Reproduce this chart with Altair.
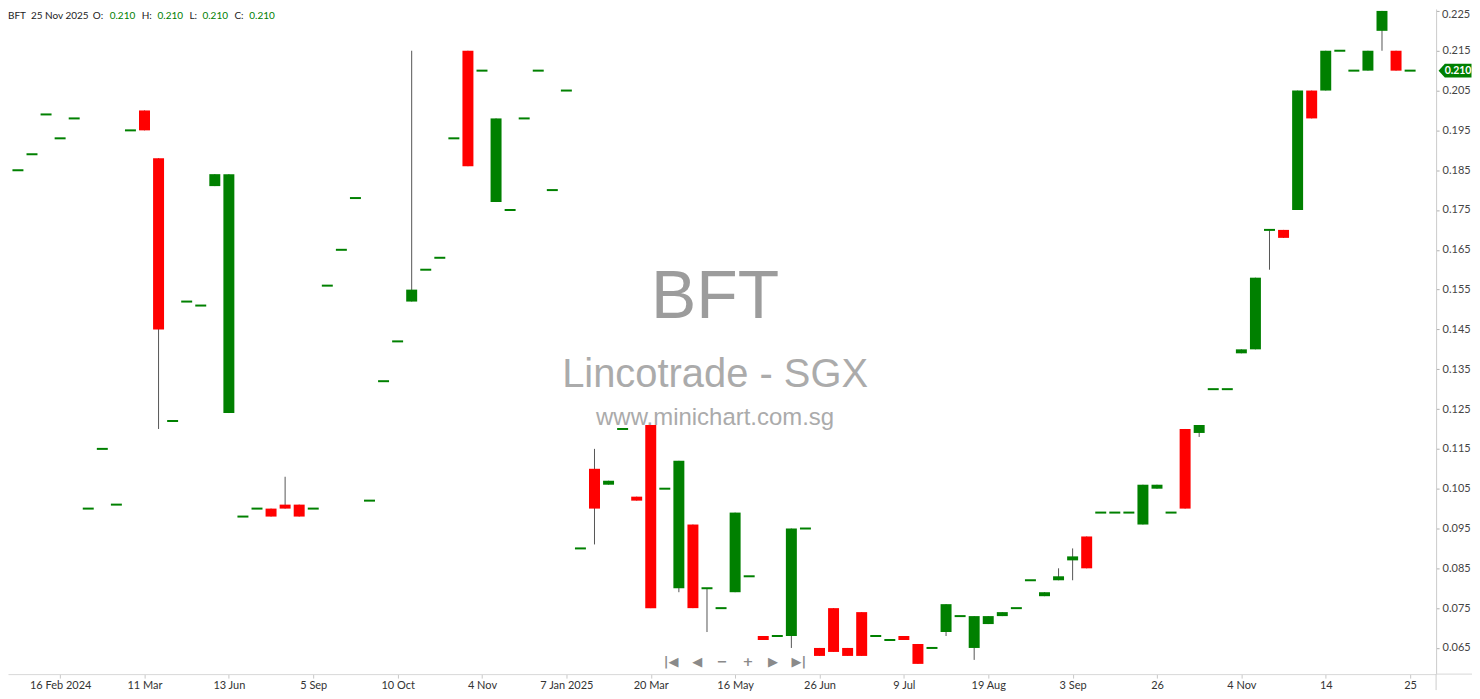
import altair as alt
import pandas as pd

# ---------------- data ----------------
opens = [0.185, 0.189, 0.199, 0.193, 0.198, 0.100, 0.115, 0.101, 0.195, 0.200,
         0.188, 0.122, 0.152, 0.151, 0.181, 0.124, 0.098, 0.100, 0.100, 0.101,
         0.101, 0.100, 0.156, 0.165, 0.178, 0.102, 0.132, 0.142, 0.152, 0.160,
         0.163, 0.193, 0.215, 0.210, 0.177, 0.175, 0.198, 0.210, 0.180, 0.205,
         0.090, 0.110, 0.106, 0.120, 0.103, 0.121, 0.105, 0.080, 0.096, 0.080,
         0.075, 0.079, 0.083, 0.068, 0.068, 0.068, 0.095, 0.065, 0.075, 0.065,
         0.074, 0.068, 0.067, 0.068, 0.066, 0.065, 0.069, 0.073, 0.065, 0.071,
         0.073, 0.075, 0.082, 0.078, 0.082, 0.087, 0.093, 0.099, 0.099, 0.099,
         0.096, 0.105, 0.099, 0.120, 0.119, 0.130, 0.130, 0.139, 0.140, 0.170,
         0.170, 0.175, 0.205, 0.205, 0.215, 0.210, 0.210, 0.220, 0.215, 0.210]
highs = [0.185, 0.189, 0.199, 0.193, 0.198, 0.100, 0.115, 0.101, 0.195, 0.200,
         0.188, 0.122, 0.152, 0.151, 0.184, 0.184, 0.098, 0.100, 0.100, 0.108,
         0.101, 0.100, 0.156, 0.165, 0.178, 0.102, 0.132, 0.142, 0.215, 0.160,
         0.163, 0.193, 0.215, 0.210, 0.198, 0.175, 0.198, 0.210, 0.180, 0.205,
         0.090, 0.115, 0.107, 0.120, 0.103, 0.121, 0.105, 0.112, 0.096, 0.080,
         0.075, 0.099, 0.083, 0.068, 0.068, 0.095, 0.095, 0.065, 0.075, 0.065,
         0.074, 0.068, 0.067, 0.068, 0.066, 0.065, 0.076, 0.073, 0.073, 0.073,
         0.074, 0.075, 0.082, 0.079, 0.085, 0.090, 0.093, 0.099, 0.099, 0.099,
         0.106, 0.106, 0.099, 0.120, 0.121, 0.130, 0.130, 0.140, 0.158, 0.170,
         0.170, 0.205, 0.205, 0.215, 0.215, 0.210, 0.215, 0.225, 0.215, 0.210]
lows = [0.185, 0.189, 0.199, 0.193, 0.198, 0.100, 0.115, 0.101, 0.195, 0.195,
        0.120, 0.122, 0.152, 0.151, 0.181, 0.124, 0.098, 0.100, 0.098, 0.100,
        0.098, 0.100, 0.156, 0.165, 0.178, 0.102, 0.132, 0.142, 0.152, 0.160,
        0.163, 0.193, 0.186, 0.210, 0.177, 0.175, 0.198, 0.210, 0.180, 0.205,
        0.090, 0.091, 0.106, 0.120, 0.102, 0.075, 0.105, 0.079, 0.075, 0.069,
        0.075, 0.079, 0.083, 0.067, 0.068, 0.065, 0.095, 0.063, 0.064, 0.063,
        0.063, 0.068, 0.067, 0.067, 0.061, 0.065, 0.068, 0.073, 0.062, 0.071,
        0.073, 0.075, 0.082, 0.078, 0.082, 0.082, 0.085, 0.099, 0.099, 0.099,
        0.096, 0.105, 0.099, 0.100, 0.118, 0.130, 0.130, 0.139, 0.140, 0.160,
        0.168, 0.175, 0.198, 0.205, 0.215, 0.210, 0.210, 0.215, 0.210, 0.210]
closes = [0.185, 0.189, 0.199, 0.193, 0.198, 0.100, 0.115, 0.101, 0.195, 0.195,
          0.145, 0.122, 0.152, 0.151, 0.184, 0.184, 0.098, 0.100, 0.098, 0.100,
          0.098, 0.100, 0.156, 0.165, 0.178, 0.102, 0.132, 0.142, 0.155, 0.160,
          0.163, 0.193, 0.186, 0.210, 0.198, 0.175, 0.198, 0.210, 0.180, 0.205,
          0.090, 0.100, 0.107, 0.120, 0.102, 0.075, 0.105, 0.112, 0.075, 0.080,
          0.075, 0.099, 0.083, 0.067, 0.068, 0.095, 0.095, 0.063, 0.064, 0.063,
          0.063, 0.068, 0.067, 0.067, 0.061, 0.065, 0.076, 0.073, 0.073, 0.073,
          0.074, 0.075, 0.082, 0.079, 0.083, 0.088, 0.085, 0.099, 0.099, 0.099,
          0.106, 0.106, 0.099, 0.100, 0.121, 0.130, 0.130, 0.140, 0.158, 0.170,
          0.168, 0.205, 0.198, 0.215, 0.215, 0.210, 0.215, 0.225, 0.210, 0.210]

x_label_idx = [3, 9, 15, 21, 27, 33, 39, 45, 51, 57, 63, 69, 75, 81, 87, 93, 99]
x_label_txt = ["16 Feb 2024", "11 Mar", "13 Jun", "5 Sep", "10 Oct", "4 Nov",
               "7 Jan 2025", "20 Mar", "16 May", "26 Jun", "9 Jul", "19 Aug",
               "3 Sep", "26", "4 Nov", "14", "25"]
y_ticks = [0.065, 0.075, 0.085, 0.095, 0.105, 0.115, 0.125, 0.135, 0.145,
           0.155, 0.165, 0.175, 0.185, 0.195, 0.205, 0.215, 0.225]

ticker = "BFT"
last_date = "25 Nov 2025"
exchange_txt = "Lincotrade - SGX"
site_txt = "www.minichart.com.sg"

# ---------------- layout ----------------
W, H = 1432, 667
PAD_R, PAD_B = 36, 16
GREEN, RED = "#008000", "#ff0000"

df = pd.DataFrame({"i": list(range(len(opens))), "open": opens, "high": highs,
                   "low": lows, "close": closes})
df["dir"] = ["up" if c >= o else "down" for o, c in zip(opens, closes)]

xs = alt.Scale(domain=[-0.352, 100.493], nice=False, zero=False)
ys = alt.Scale(domain=[0.05843, 0.2255], nice=False, zero=False)

top_tick = max(y_ticks)
label_expr = "[" + ",".join(f"'{t}'" for t in x_label_txt) + "][(datum.value-3)/6]"
xaxis = alt.Axis(values=x_label_idx, labelExpr=label_expr, title=None, grid=False,
                 tickSize=4, tickColor="#c8c8c8", domainColor="#d8d8d8",
                 labelColor="#333333", labelFont="Lato", labelFontSize=11,
                 labelPadding=1, labelFlush=False, labelOverlap=False)
yaxis = alt.Axis(orient="right", values=y_ticks, title=None, grid=False,
                 labelExpr=f"datum.value > {top_tick - 0.001} ? '' : format(datum.value, '.3f')",
                 tickSize=3, tickColor="#b0b0b0", domainColor="#cccccc",
                 labelColor="#444444", labelFont="Lato", labelFontSize=11,
                 labelPadding=3, labelFlush=False, labelOverlap=False)

X = alt.X("i:Q", scale=xs, axis=xaxis)
base = alt.Chart(df)

wicks = base.mark_rule(color="#555555", strokeWidth=1).encode(
    x=X, y=alt.Y("low:Q", scale=ys, axis=yaxis), y2="high:Q")

bodies = base.transform_filter("datum.open != datum.close").mark_bar(
    size=11, opacity=1).encode(
    x=X, y=alt.Y("open:Q", scale=ys, axis=yaxis), y2="close:Q",
    color=alt.Color("dir:N", scale=alt.Scale(domain=["up", "down"], range=[GREEN, RED]),
                    legend=None))

dojis = base.transform_filter("datum.open == datum.close").mark_tick(
    orient="horizontal", size=11, thickness=2, color=GREEN, opacity=1).encode(
    x=X, y=alt.Y("close:Q", scale=ys, axis=yaxis))


def txt(s, x, y, size, color, weight="normal", font="Lato", align="left",
        baseline="middle"):
    return alt.Chart(pd.DataFrame({"t": [s]})).mark_text(
        fontSize=size, color=color, fontWeight=weight, font=font, align=align,
        baseline=baseline).encode(x=alt.value(x), y=alt.value(y), text="t:N")


layers = [wicks, bodies, dojis]

# top y label, kept inside the page
layers.append(txt(f"{top_tick:.3f}", W + 6, 6, 11, "#444444"))

# watermark
layers.append(txt(ticker, 709, 310, 68, "#9c9c9c", font="Liberation Sans",
                  align="center", baseline="alphabetic"))
layers.append(txt(exchange_txt, 709, 379, 40, "#ababab", font="Liberation Sans",
                  align="center", baseline="alphabetic"))
layers.append(txt(site_txt, 709, 417, 24, "#ababab", font="Liberation Sans",
                  align="center", baseline="alphabetic"))

# navigation icons
for s, x in [("|◀", 665), ("◀", 691), ("−", 716), ("+", 742), ("▶", 767), ("▶|", 793)]:
    layers.append(txt(s, x, 655, 13, "#8a8a8a", weight="bold", font="DejaVu Sans",
                      align="center"))

# header
last = len(closes) - 1
hdr = [(ticker, 0, "#222222"), (last_date, 23, "#222222"),
       ("O:", 85, "#222222"), (f"{opens[last]:.3f}", 102, GREEN),
       ("H:", 134, "#222222"), (f"{highs[last]:.3f}", 150, GREEN),
       ("L:", 182, "#222222"), (f"{lows[last]:.3f}", 195, GREEN),
       ("C:", 227, "#222222"), (f"{closes[last]:.3f}", 242, GREEN)]
for s, x, c in hdr:
    layers.append(txt(s, x, 7, 10, c))

# price tag at last close
tag_shape = "M -1 0 L -0.62 -0.42 L 1 -0.42 L 1 0.42 L -0.62 0.42 Z"
tag = alt.Chart(pd.DataFrame({"v": [closes[last]]})).mark_point(
    shape=tag_shape, size=1089, filled=True, color=GREEN, opacity=1, strokeWidth=0).encode(
    x=alt.value(1451), y=alt.Y("v:Q", scale=ys, axis=yaxis))
tag_txt = alt.Chart(pd.DataFrame({"v": [closes[last]],
                                  "t": [f"{closes[last]:.3f}"]})).mark_text(
    color="white", fontWeight="bold", fontSize=10.5, font="Lato", align="center",
    baseline="middle").encode(x=alt.value(1454), y=alt.Y("v:Q", scale=ys, axis=yaxis),
                              text="t:N")
layers += [tag, tag_txt]

# axis line extensions (corner)
layers.append(alt.Chart(pd.DataFrame({"a": [0]})).mark_rule(color="#cccccc").encode(
    x=alt.value(W), y=alt.value(H), y2=alt.value(H + PAD_B)))
layers.append(alt.Chart(pd.DataFrame({"a": [0]})).mark_rule(color="#d8d8d8").encode(
    x=alt.value(W), x2=alt.value(W + PAD_R), y=alt.value(H)))

chart = alt.layer(*layers).properties(
    width=W, height=H,
    padding={"left": 0, "top": 0, "right": PAD_R, "bottom": PAD_B},
    autosize=alt.AutoSizeParams(type="none"),
    background="white"
).configure_view(strokeWidth=0)

chart.save("out.html", embed_options={"renderer": "svg", "actions": False})
